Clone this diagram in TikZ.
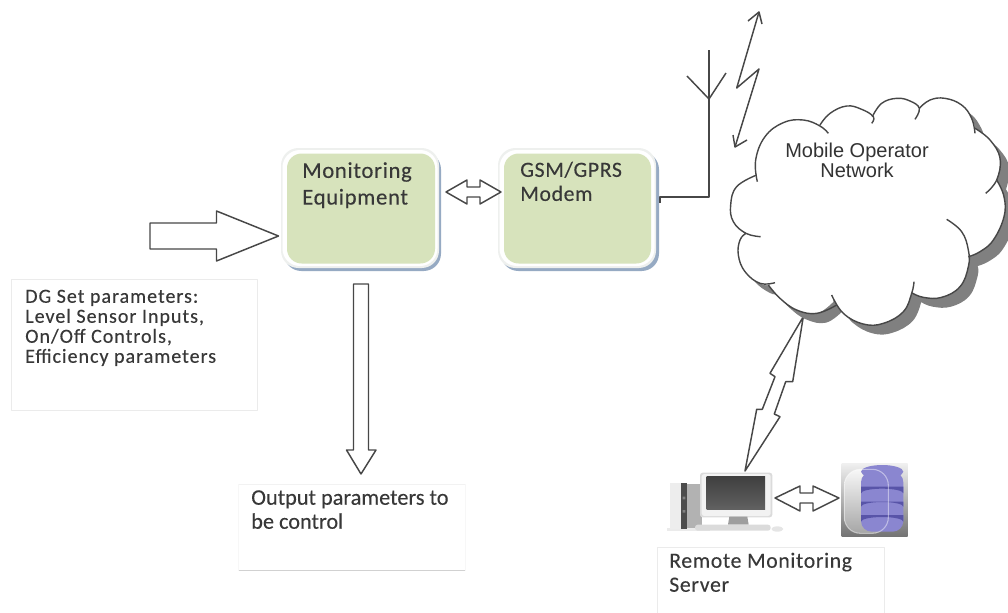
\documentclass[tikz,border=0pt]{standalone}
\usepackage{fontspec}
\setmainfont[FakeBold=0.25]{Carlito}
\newfontfamily\spacedfont[LetterSpace=3,FakeBold=0.25]{Carlito}
\newfontfamily\notefont[LetterSpace=5,FakeBold=0.3]{Carlito}
\newfontfamily\arialfont{Liberation Sans}
\begin{document}
\begin{tikzpicture}[x=0.75pt,y=-0.75pt,
  line join=round,
  ink/.style={draw=black!72,line width=1.1pt},
  blockarrow/.style={ink,fill=white},
  panel/.style={draw=none,fill=white,rounded corners=13pt,inner sep=0pt},
  face/.style={fill=boxgreen,rounded corners=11pt,inner sep=0pt},
  plain/.style={anchor=north west,align=left,inner sep=0pt,text=black!78},
  labelbox/.style={draw=black!8,line width=0.5pt},
  boxtext/.style={plain,font=\spacedfont\fontsize{17}{20}\selectfont},
  modemfont/.style={plain,font=\spacedfont\fontsize{16.3}{18}\selectfont},
  notetext/.style={plain,font=\notefont\fontsize{15}{15}\selectfont},
  outfont/.style={plain,font=\fontsize{16.7}{18}\selectfont},
  cloudlobe/.style={draw=black!72,line width=1.05pt,smooth,tension=0.7}
]
\definecolor{boxgreen}{RGB}{215,227,188}
\definecolor{boxshadow}{RGB}{150,170,195}
\definecolor{boxrim}{RGB}{238,240,238}
\definecolor{cloudshadow}{RGB}{128,128,128}
\useasboundingbox (0,0) rectangle (1008,612);
\clip (0,0) rectangle (1008,612);

% ---- Equipment boxes
\path[fill=boxshadow,rounded corners=13pt] (284,152) rectangle (441,271);
\path[fill=boxshadow,rounded corners=13pt] (501,152) rectangle (659,271);
\path[fill=boxrim,rounded corners=13pt] (281,148) rectangle (439,268);
\path[fill=boxrim,rounded corners=13pt] (498,148) rectangle (656,268);
\node[panel,minimum width=0.75pt*155,minimum height=0.75pt*116] (monpanel) at (360,208) {};
\node[panel,minimum width=0.75pt*155,minimum height=0.75pt*116] (modempanel) at (577,208) {};
\node[face,minimum width=0.75pt*148,minimum height=0.75pt*110] (mon) at (361,208.5) {};
\node[face,minimum width=0.75pt*147,minimum height=0.75pt*110] (modem) at (577.5,208.5) {};
\node[boxtext] (montext) at (302,162) {Monitoring\\Equipment};
\node[modemfont] (modemtext) at (520,161.5) {GSM/GPRS\\Modem};

% ---- Block arrows
\draw[blockarrow] (150,223) -- (216.5,223) -- (216.5,211) -- (278.5,236) -- (216.5,261) -- (216.5,249) -- (150,249) -- cycle;
\draw[blockarrow] (353.5,284) -- (368.5,284) -- (368.5,450) -- (376,450) -- (361,474) -- (346.5,450) -- (353.5,450) -- cycle;
\draw[blockarrow] (446,192) -- (467,180) -- (467,187) -- (480,187) -- (480,180) -- (501,192) -- (480,204) -- (480,197) -- (467,197) -- (467,204) -- cycle;
\draw[blockarrow] (775,498) -- (800,486) -- (800,493) -- (813,493) -- (813,486) -- (839,498) -- (813,511) -- (813,503) -- (800,503) -- (800,511) -- cycle;
\draw[blockarrow] (803.3,316.7) -- (770,373.3) -- (775,376.7) -- (762.3,409.3) -- (756.7,409.3) -- (745,471) -- (780,416.7) -- (774.3,414) -- (785.7,381.7) -- (792.7,381.7) -- cycle;

% ---- Antenna and radio link
\coordinate (port) at (660,197);
\coordinate (anttop) at (709,50);
\coordinate (antfoot) at (709,99);
\coordinate (antl) at (687,76);
\coordinate (antr) at (726,73);
\draw[ink,line width=1.15pt] (660,203) -- (port) -| (anttop);
\draw[ink] (antl) -- (antfoot) -- (antr);
\coordinate (zz1) at (759,12);
\coordinate (zz2) at (736.7,88);
\coordinate (zz3) at (759,69);
\coordinate (zz4) at (735,147);
\draw[ink] (zz1) -- (zz2) -- (zz3) -- (zz4);
\draw[ink] (748,21) -- (zz1) -- (762,24);
\draw[ink] (733,135) -- (zz4) -- (747,140);

% ---- Cloud (coordinates in 3x units of the region from x=640)
\begin{scope}[shift={(640,0)},x=0.25pt,y=-0.25pt]
  \def\cloudoutline{plot[smooth,tension=0.7] coordinates {(350,525)(347,480)(375,410)(430,368)(490,360)(540,378)}
    -- plot[smooth,tension=0.7] coordinates {(540,375)(570,340)(620,318)(665,328)(700,350)}
    -- plot[smooth,tension=0.7] coordinates {(697,350)(725,310)(770,295)(810,303)(838,325)}
    -- plot[smooth,tension=0.7] coordinates {(838,325)(870,300)(915,295)(965,315)(995,355)(1005,385)}
    -- plot[smooth,tension=0.7] coordinates {(1005,385)(1050,420)(1080,475)(1070,540)}
    -- plot[smooth,tension=0.7] coordinates {(1070,540)(1092,590)(1092,650)(1060,720)(1020,755)(985,770)}
    -- plot[smooth,tension=0.7] coordinates {(985,770)(985,800)(960,860)(905,892)(850,892)(815,878)}
    -- plot[smooth,tension=0.7] coordinates {(815,880)(790,935)(730,970)(670,972)(610,940)(580,895)}
    -- plot[smooth,tension=0.7] coordinates {(580,905)(530,940)(470,930)(420,895)(385,855)}
    -- plot[smooth,tension=0.7] coordinates {(385,855)(360,850)(315,815)(295,765)(300,720)(318,700)}
    -- plot[smooth,tension=0.7] coordinates {(318,700)(280,665)(272,615)(290,560)(350,525)}
    -- cycle}
  \fill[cloudshadow,shift={(28,28)}] \cloudoutline;
  \fill[white] \cloudoutline;
  \draw[cloudlobe] plot[smooth,tension=0.7] coordinates {(352,545)(347,480)(375,410)(430,368)(490,360)(540,378)(565,400)};
  \draw[cloudlobe] plot[smooth,tension=0.7] coordinates {(540,375)(570,340)(620,318)(665,328)(700,350)(695,370)};
  \draw[cloudlobe] plot[smooth,tension=0.7] coordinates {(697,350)(725,310)(770,295)(810,303)(838,325)(825,358)};
  \draw[cloudlobe] plot[smooth,tension=0.7] coordinates {(838,325)(870,300)(915,295)(965,315)(995,355)(1005,400)};
  \draw[cloudlobe] plot[smooth,tension=0.7] coordinates {(1005,385)(1050,420)(1080,475)(1070,540)(1037,580)};
  \draw[cloudlobe] plot[smooth,tension=0.7] coordinates {(1070,540)(1092,590)(1092,650)(1060,720)(1020,755)(985,770)};
  \draw[cloudlobe] plot[smooth,tension=0.7] coordinates {(920,658)(965,695)(985,750)(985,800)(960,860)(905,892)(850,892)(815,878)};
  \draw[cloudlobe] plot[smooth,tension=0.7] coordinates {(822,845)(815,880)(790,935)(730,970)(670,972)(610,940)(575,885)};
  \draw[cloudlobe] plot[smooth,tension=0.7] coordinates {(590,915)(530,940)(470,930)(420,895)(385,855)};
  \draw[cloudlobe] plot[smooth,tension=0.7] coordinates {(405,848)(360,850)(315,815)(295,765)(300,720)(318,700)};
  \draw[cloudlobe] plot[smooth,tension=0.7] coordinates {(362,710)(318,700)(280,665)(272,615)(290,560)(350,525)};
\end{scope}
\node[anchor=center,align=center,inner sep=0pt,text=black!80,font=\arialfont\fontsize{15}{15}\selectfont] (cloudtext) at (857,160) {Mobile Operator\\Network};

% ---- Label boxes
\node[labelbox,fill=white,minimum width=0.75pt*245.5,minimum height=0.75pt*131,inner sep=0pt] (dgbox) at (134.3,344.5) {};
\node[notetext] (dgtext) at (25,289.5) {DG Set parameters:\\Level Sensor Inputs,\\On/Off Controls,\\Efficiency parameters};
\coordinate (outtl) at (238,484);
\coordinate (outtr) at (465,484);
\coordinate (outbl) at (238,570.5);
\coordinate (outbr) at (465,570.5);
\draw[draw=black!5,line width=0.5pt] (outtl) -- (outtr);
\draw[draw=black!18,line width=0.6pt] (outbl) -- (outbr);
\draw[draw=black!3,line width=0.5pt] (outtl) -- (outbl) (outtr) -- (outbr);
\node[outfont] (outtext) at (251,490) {Output parameters to\\be control};
\path[labelbox] (657,614) -- (657,547) -- (884,547) -- (884,614);
\node[modemfont] (remotetext) at (669,552.5) {Remote Monitoring\\Server};

% ---- Computer
\begin{scope}[shift={(660,460)},x=0.25pt,y=-0.25pt]
  \fill[black!8] (20,205) rectangle (150,214);
  \fill[black!7] (30,68) rectangle (62,208);
  \fill[black!70] (62,68) rectangle (82,208);
  \fill[black!30] (82,72) rectangle (125,205);
  \fill[black!50] (68,110) rectangle (76,118) (68,150) rectangle (76,158);
  \fill[black!14,rounded corners=2pt] (120,38) rectangle (337,172);
  \fill[black!5,rounded corners=2pt] (125,42) rectangle (332,168);
  \shade[top color=black!75,bottom color=black!62] (140,50) rectangle (315,148);
  \fill[black!38] (208,170) -- (262,170) -- (266,194) -- (204,194) -- cycle;
  \fill[black!14,rounded corners=2pt] (105,194) rectangle (332,212);
  \fill[black!10] (352,207) ellipse[x radius=18,y radius=8];
\end{scope}

% ---- Database
\begin{scope}[shift={(835,460)},x=0.25pt,y=-0.25pt]
  \definecolor{dblight}{RGB}{138,134,208}
  \definecolor{dbdark}{RGB}{88,84,168}
  \shade[top color=black!6,bottom color=black!55] (20,10) rectangle (218,230);
  \shade[top color=black!3,bottom color=black!35,rounded corners=12pt] (28,28) rectangle (160,220);
  \fill[dblight,rounded corners=8pt] (78,35) rectangle (205,215);
  \fill[dblight] (141.5,35) ellipse[x radius=63.5,y radius=20];
  \fill[dbdark] (78,80) -- (205,80) -- (205,100) arc[start angle=0,end angle=-180,x radius=63.5,y radius=14] -- cycle;
  \fill[dbdark] (78,125) -- (205,125) -- (205,140) arc[start angle=0,end angle=-180,x radius=63.5,y radius=14] -- cycle;
  \fill[dbdark] (78,165) -- (205,165) -- (205,185) arc[start angle=0,end angle=-180,x radius=63.5,y radius=14] -- cycle;
  \draw[white,opacity=0.45,line width=0.8pt,rounded corners=12pt] (28,28) rectangle (160,220);
\end{scope}
\end{tikzpicture}
\end{document}
